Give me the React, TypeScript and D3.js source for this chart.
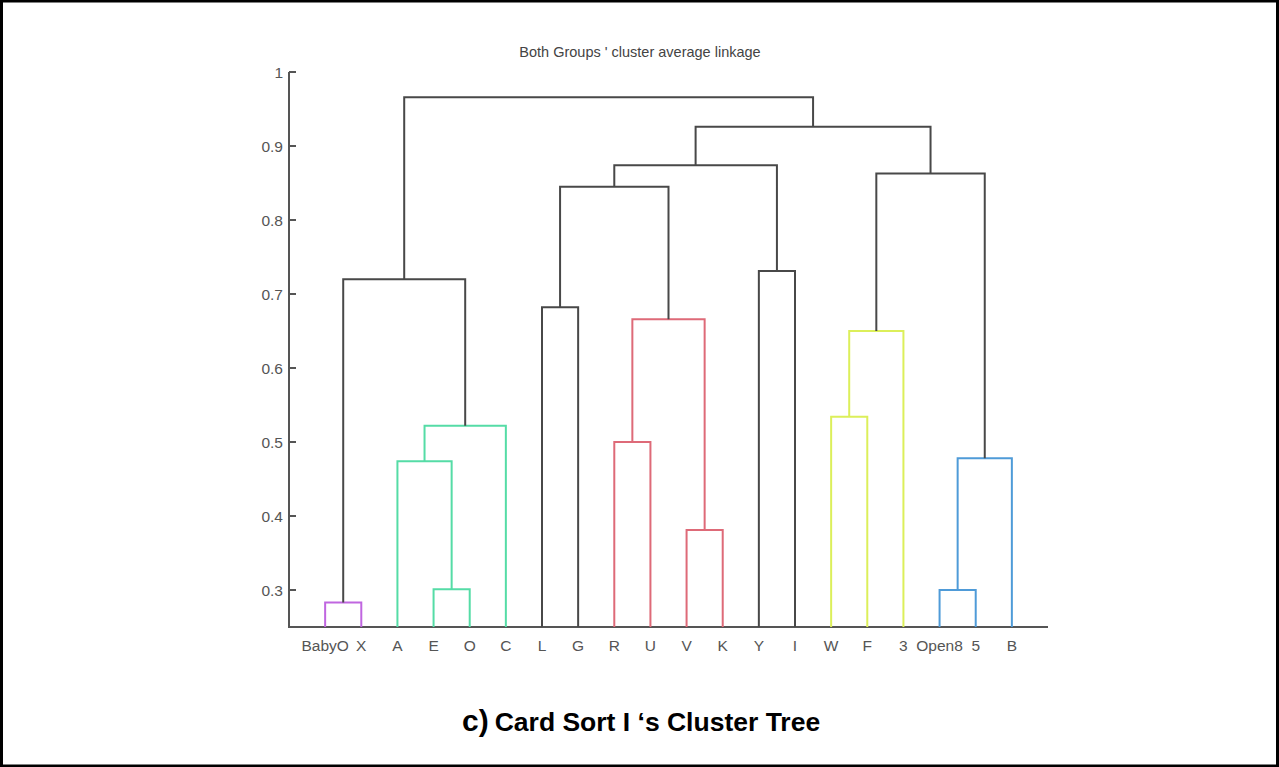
import React from "react";
import * as d3 from "d3";

/* leaves in display order */
const leaves = ["BabyO", "X", "A", "E", "O", "C", "L", "G", "R", "U", "V", "K", "Y", "I", "W", "F", "3", "Open8", "5", "B"];

/* linkage: children ids (0-19 leaves, 20+ merged nodes in order) */
const merges: [number, number][] = [
  [0, 1], [3, 4], [17, 18], [10, 11], [2, 21], [22, 19], [8, 9], [24, 5], [14, 15], [28, 16],
  [26, 23], [6, 7], [20, 27], [12, 13], [31, 30], [29, 25], [34, 33], [36, 35], [32, 37],
];
const heights = [0.283, 0.301, 0.3, 0.381, 0.474, 0.478, 0.5, 0.522, 0.534, 0.65, 0.666, 0.682, 0.72, 0.731, 0.845, 0.863, 0.874, 0.926, 0.966];
const linkColors = [
  "#c066e0", "#55dca6", "#4f9bd8", "#de6a78", "#55dca6", "#4f9bd8", "#de6a78", "#55dca6", "#dcef5a", "#dcef5a",
  "#de6a78", "#484848", "#484848", "#484848", "#484848", "#484848", "#484848", "#484848", "#484848",
];
const yTicks = [0.3, 0.4, 0.5, 0.6, 0.7, 0.8, 0.9, 1];

const W = 1279;
const H = 767;
const font = "Liberation Sans, Arial, sans-serif";

const App = () => {
  const x = d3.scaleLinear().domain([0, leaves.length + 1]).range([289, 1048]);
  const y = d3.scaleLinear().domain([0.25, 1]).range([627, 72]);

  /* position of every node */
  const nodeX: number[] = leaves.map((_, i) => x(i + 1));
  const nodeH: number[] = leaves.map(() => 0.25);
  merges.forEach(([a, b], i) => {
    nodeX.push((nodeX[a] + nodeX[b]) / 2);
    nodeH.push(heights[i]);
  });

  const links = merges.map(([a, b], i) => {
    const p = d3.path();
    p.moveTo(nodeX[a], y(nodeH[a]));
    p.lineTo(nodeX[a], y(heights[i]));
    p.lineTo(nodeX[b], y(heights[i]));
    p.lineTo(nodeX[b], y(nodeH[b]));
    return { d: p.toString(), color: linkColors[i] };
  });

  const fmt = (v: number) => (v === 1 ? "1" : String(v));

  return (
    <svg width={W} height={H} style={{ position: "absolute", left: 0, top: 0, background: "#fff" }}>
      <rect x={1.5} y={1} width={W - 3} height={H - 2} fill="#fff" stroke="#000" strokeWidth={3} />

      <text x={640} y={57} textAnchor="middle" fontFamily={font} fontSize={14.5} fill="#444">
        Both Groups ' cluster average linkage
      </text>

      {/* axes */}
      <line x1={289} x2={289} y1={y(1)} y2={y(0.25)} stroke="#555" strokeWidth={2} />
      <line x1={288} x2={1048} y1={y(0.25)} y2={y(0.25)} stroke="#555" strokeWidth={2} />
      {yTicks.map((t) => (
        <g key={t}>
          <line x1={289} x2={296} y1={y(t)} y2={y(t)} stroke="#555" strokeWidth={2} />
          <text x={283} y={y(t) + 5.5} textAnchor="end" fontFamily={font} fontSize={15.5} fill="#555">
            {fmt(t)}
          </text>
        </g>
      ))}
      {leaves.map((l, i) => (
        <text key={l} x={x(i + 1)} y={651} textAnchor="middle" fontFamily={font} fontSize={15.5} fill="#555">
          {l}
        </text>
      ))}

      {/* dendrogram links */}
      {links.map((lk, i) => (
        <path key={i} d={lk.d} fill="none" stroke={lk.color} strokeWidth={2} />
      ))}

      <text x={462} y={731} fontFamily={font} fontWeight="bold" fill="#000">
        <tspan fontSize={30}>c)</tspan>
        <tspan dx={6} fontSize={26.5}>Card Sort I ‘s Cluster Tree</tspan>
      </text>
    </svg>
  );
};

export default App;
